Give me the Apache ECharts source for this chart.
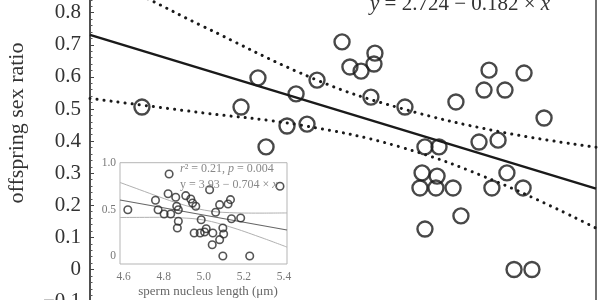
<!DOCTYPE html>
<html><head><meta charset="utf-8">
<script src="https://cdn.jsdelivr.net/npm/echarts@6/dist/echarts.min.js"></script>
<style>html,body{margin:0;padding:0;background:#fff}#c{width:600px;height:300px}</style>
</head><body><div id="c"></div>
<script>
// ---- main panel data ----
const mainX = [11.220, 11.735, 11.823, 11.865, 11.974, 12.021, 12.078, 12.130, 12.260, 12.301, 12.359, 12.426, 12.431, 12.410, 12.587, 12.691, 12.764, 12.676, 12.754, 12.665, 12.748, 12.837, 12.691, 12.878, 12.852, 13.024, 12.998, 13.107, 13.206, 13.310, 12.972, 13.071, 13.117, 13.039, 13.201, 13.154, 13.247];
const mainY = [0.506, 0.506, 0.597, 0.382, 0.447, 0.547, 0.453, 0.590, 0.709, 0.631, 0.618, 0.640, 0.674, 0.537, 0.506, 0.382, 0.382, 0.301, 0.291, 0.254, 0.254, 0.254, 0.126, 0.167, 0.522, 0.621, 0.559, 0.559, 0.612, 0.472, 0.397, 0.403, 0.301, 0.254, 0.254, 0, 0];
const fitX = [10.95, 13.58];
const fitY = [0.731, 0.252];
const upperX = [10.95, 11.262, 11.522, 12.130, 12.561, 13.081, 13.58];
const upperY = [0.930, 0.840, 0.762, 0.590, 0.503, 0.429, 0.381];
const lowerX = [10.95, 11.522, 12.041, 12.561, 13.081, 13.58];
const lowerY = [0.533, 0.489, 0.450, 0.382, 0.269, 0.129];
const equationText = '{i|y} = 2.724 − 0.182 × {i|x}';
const yName = 'offspring sex ratio';

// ---- inset data ----
const insetX = [4.621, 4.759, 4.772, 4.802, 4.827, 4.822, 4.835, 4.860, 4.865, 4.873, 4.873, 4.868, 4.910, 4.935, 4.944, 4.960, 4.952, 4.982, 4.987, 5.004, 5.012, 5.029, 5.045, 5.042, 5.059, 5.079, 5.079, 5.095, 5.099, 5.121, 5.133, 5.138, 5.184, 5.095, 5.229, 5.380];
const insetY = [0.499, 0.600, 0.499, 0.453, 0.884, 0.671, 0.453, 0.633, 0.536, 0.499, 0.374, 0.302, 0.650, 0.614, 0.571, 0.536, 0.248, 0.248, 0.391, 0.259, 0.294, 0.714, 0.248, 0.122, 0.471, 0.553, 0.176, 0.302, 0.237, 0.560, 0.607, 0.402, 0.409, 0, 0, 0.751];
const insetFitX = [4.582, 5.415];
const insetFitY = [0.603, 0.280];
const insetBandX = [4.582, 4.678, 4.778, 4.878, 5.004, 5.129, 5.280, 5.415];
const insetUpY = [0.792, 0.716, 0.637, 0.564, 0.494, 0.467, 0.462, 0.464];
const insetLoY = [0.415, 0.416, 0.417, 0.412, 0.386, 0.315, 0.204, 0.096];
const insetXTicks = [4.6, 4.8, 5.0, 5.2, 5.4];
const insetYTicks = [0, 0.5, 1.0];
const insetXName = 'sperm nucleus length (μm)';
const insetStat1 = '{i|r}² = 0.21, {i|p} = 0.004';
const insetStat2 = 'y = 3.93 − 0.704 × {i|x}';

const pair = (xs, ys) => xs.map((x, i) => [x, ys[i]]);
const SERIF = '"Liberation Serif", "DejaVu Serif", serif';

const chart = echarts.init(document.getElementById('c'), null, {renderer: 'canvas'});
chart.setOption({
  animation: false,
  grid: [
    {left: 90, right: 4, top: -19.4, height: 353.1, outerBoundsMode: 'none', containLabel: false,
     show: true, borderColor: '#444', borderWidth: 1.5, backgroundColor: 'transparent'},
    {left: 120, top: 162.7, width: 167, height: 101.3, outerBoundsMode: 'none', containLabel: false,
     show: true, borderColor: '#b5b5b5', borderWidth: 1, backgroundColor: '#fff', z: 5}
  ],
  xAxis: [
    {type: 'value', gridIndex: 0, min: 10.95, max: 13.58, show: false},
    {type: 'value', gridIndex: 1, min: 4.582, max: 5.415, z: 6,
     axisLine: {show: false}, axisTick: {show: false}, splitLine: {show: false},
     axisLabel: {customValues: insetXTicks, formatter: v => v.toFixed(1), color: '#777', fontFamily: SERIF, fontSize: 11.5, margin: 7}}
  ],
  yAxis: [
    {type: 'value', gridIndex: 0, min: -0.2, max: 0.9, interval: 0.1,
     axisLine: {show: true, lineStyle: {color: '#444', width: 1.5}},
     axisTick: {show: true, inside: true, length: 4, lineStyle: {color: '#444', width: 1}},
     minorTick: {show: true, splitNumber: 5, length: 2.5, lineStyle: {color: '#555', width: 1}},
     splitLine: {show: false},
     axisLabel: {color: '#333', fontFamily: SERIF, fontSize: 21, margin: 9,
       formatter: v => Math.abs(v) < 1e-9 ? '0' : v.toFixed(1).replace('-', '−')}},
    {type: 'value', gridIndex: 1, min: -0.086, max: 1.005, z: 6,
     axisLine: {show: false}, axisTick: {show: false}, splitLine: {show: false},
     axisLabel: {customValues: insetYTicks, formatter: v => v === 0 ? '0' : v.toFixed(1), color: '#777', fontFamily: SERIF, fontSize: 11.5, margin: 4}}
  ],
  series: [
    {type: 'line', xAxisIndex: 0, yAxisIndex: 0, data: pair(upperX, upperY), smooth: 0.4, showSymbol: false, silent: true,
     lineStyle: {color: '#1a1a1a', width: 3, type: [0.1, 7], cap: 'round'}},
    {type: 'line', xAxisIndex: 0, yAxisIndex: 0, data: pair(lowerX, lowerY), smooth: 0.4, showSymbol: false, silent: true,
     lineStyle: {color: '#1a1a1a', width: 3, type: [0.1, 7], cap: 'round'}},
    {type: 'line', xAxisIndex: 0, yAxisIndex: 0, data: pair(fitX, fitY), showSymbol: false, silent: true,
     lineStyle: {color: '#1a1a1a', width: 2.5}},
    {type: 'scatter', xAxisIndex: 0, yAxisIndex: 0, data: pair(mainX, mainY), symbol: 'circle', symbolSize: 15, silent: true,
     itemStyle: {color: 'rgba(0,0,0,0)', borderColor: '#1a1a1a', borderWidth: 2.4}},
    {type: 'line', xAxisIndex: 1, yAxisIndex: 1, data: pair(insetBandX, insetUpY), smooth: 0.4, showSymbol: false, silent: true, z: 7,
     lineStyle: {color: '#b0b0b0', width: 1}},
    {type: 'line', xAxisIndex: 1, yAxisIndex: 1, data: pair(insetBandX, insetLoY), smooth: 0.4, showSymbol: false, silent: true, z: 7,
     lineStyle: {color: '#b0b0b0', width: 1}},
    {type: 'line', xAxisIndex: 1, yAxisIndex: 1, data: pair(insetFitX, insetFitY), showSymbol: false, silent: true, z: 7,
     lineStyle: {color: '#666', width: 1.2}},
    {type: 'scatter', xAxisIndex: 1, yAxisIndex: 1, data: pair(insetX, insetY), symbol: 'circle', symbolSize: 7.5, silent: true, z: 8,
     itemStyle: {color: 'rgba(0,0,0,0)', borderColor: '#2a2a2a', borderWidth: 1.6}}
  ],
  graphic: [
    {type: 'text', x: 17, y: 123, rotation: Math.PI / 2, silent: true,
     style: {text: yName, fontFamily: SERIF, fontSize: 22, fill: '#333', align: 'center', verticalAlign: 'middle'}},
    {type: 'text', x: 370, y: 4, silent: true, z: 10,
     style: {text: equationText, fontFamily: SERIF, fontSize: 21, fill: '#333', align: 'left', verticalAlign: 'middle',
       rich: {i: {fontFamily: SERIF, fontSize: 21, fontStyle: 'italic', fill: '#333'}}}},
    {type: 'text', x: 180, y: 168.5, silent: true, z: 20,
     style: {text: insetStat1, fontFamily: SERIF, fontSize: 12, fill: '#888', align: 'left', verticalAlign: 'middle',
       rich: {i: {fontFamily: SERIF, fontSize: 12, fontStyle: 'italic', fill: '#888'}}}},
    {type: 'text', x: 180, y: 185, silent: true, z: 20,
     style: {text: insetStat2, fontFamily: SERIF, fontSize: 12, fill: '#888', align: 'left', verticalAlign: 'middle',
       rich: {i: {fontFamily: SERIF, fontSize: 12, fontStyle: 'italic', fill: '#888'}}}},
    {type: 'text', x: 208, y: 291.5, silent: true, z: 20,
     style: {text: insetXName, fontFamily: SERIF, fontSize: 13, fill: '#666', align: 'center', verticalAlign: 'middle'}}
  ]
});
</script>
</body></html>
